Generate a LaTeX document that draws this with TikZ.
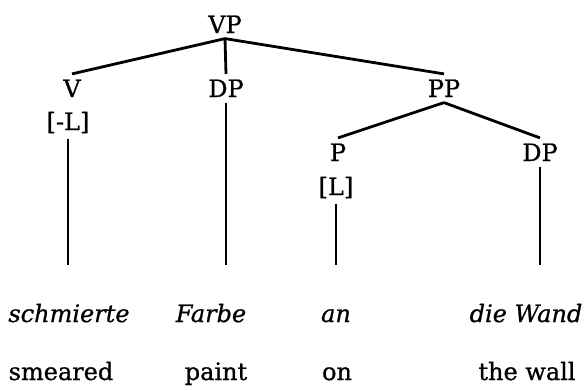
\documentclass[tikz,border=0pt]{standalone}
\usepackage{fontspec}
\setmainfont{DejaVu Serif}[FakeBold=0.8]
\usetikzlibrary{positioning}

\begin{document}
\begin{tikzpicture}[x=0.75pt,y=-0.75pt,font=\fontsize{18}{22}\selectfont]
\tikzstyle{cat}=[anchor=base, inner sep=4pt]
\tikzstyle{feat}=[anchor=base, inner sep=4pt]
\tikzstyle{word}=[anchor=base, inner sep=4pt, text height=13.5pt, text depth=4pt, font=\fontsize{18}{22}\selectfont\itshape]
\tikzstyle{gloss}=[anchor=base, inner sep=4pt]
\tikzstyle{branch}=[line width=2.1pt]
\tikzstyle{leaf}=[line width=1.6pt, shorten >=25pt]
\useasboundingbox (0,0) rectangle (588,390);
	% categories
	\node[cat] (vp) at (225,33) {VP};
	\node[cat] (v) at (72,97) {V};
	\node[feat] (v_f) at (68,130) {[-L]};
	\node[cat] (dp_1) at (226,97) {DP};
	\node[cat] (pp) at (444,97) {PP};
	\node[cat] (p) at (338,161) {P};
	\node[feat] (p_f) at (336,195) {[L]};
	\node[cat] (dp_2) at (540,161) {DP};

	% words and glosses
	\node[word] (w_1) at (69,322) {schmierte};
	\node[word] (w_2) at (211,322) {Farbe};
	\node[word] (w_3) at (336,322) {an};
	\node[word] (w_4) at (526,322) {die Wand};
	\node[gloss] (g_1) at (61,380) {smeared};
	\node[gloss] (g_2) at (216,380) {paint};
	\node[gloss] (g_3) at (337,380) {on};
	\node[gloss] (g_4) at (527,380) {the wall};

	\path
		(vp.south) edge [branch] (v.north)
		(vp.south) edge [branch] (dp_1.north)
		(vp.south) edge [branch] (pp.north)
		(pp.south) edge [branch] (p.north)
		(pp.south) edge [branch] (dp_2.north)
		(v_f.south) edge [leaf] (v_f.south |- w_1.north)
		(dp_1.south) edge [leaf] (dp_1.south |- w_2.north)
		(p_f.south) edge [leaf] (p_f.south |- w_3.north)
		(dp_2.south) edge [leaf] (dp_2.south |- w_4.north);

\end{tikzpicture}
\end{document}
